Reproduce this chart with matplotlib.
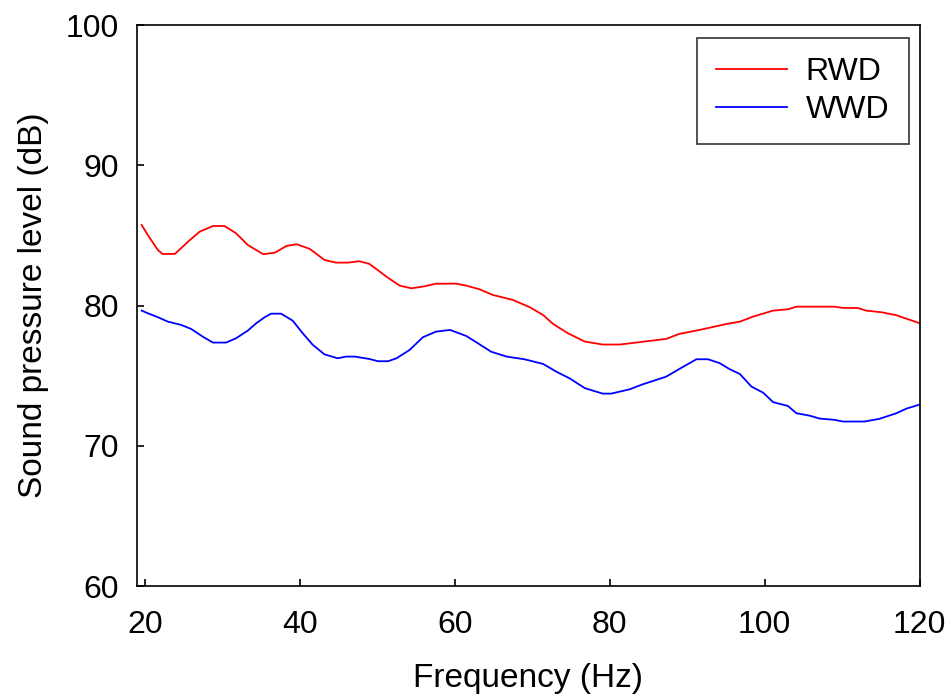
import matplotlib
matplotlib.use("Agg")
import matplotlib.pyplot as plt

plt.rcParams['font.family'] = ['Liberation Sans', 'DejaVu Sans']

# values
rwd_f = [19.6, 20.4, 21.7, 22.3, 23.9, 25.6, 27.1, 28.8, 30.3, 31.8, 33.3, 35.3, 36.8,
         38.3, 39.6, 41.3, 43.2, 44.7, 46.2, 47.7, 49.0, 51.2, 52.9, 54.4, 55.9, 57.6,
         60.2, 61.5, 63.2, 64.9, 67.5, 69.7, 71.4, 72.7, 74.6, 76.8, 79.1, 81.3, 83.4,
         87.3, 89.0, 91.6, 95.1, 96.8, 98.5, 101.1, 103.0, 104.1, 109.0, 110.1, 112.0,
         113.1, 115.1, 117.0, 120.0]
rwd_db = [85.75, 85.03, 83.96, 83.68, 83.68, 84.56, 85.27, 85.67, 85.67, 85.15, 84.32,
          83.66, 83.77, 84.25, 84.37, 84.04, 83.25, 83.06, 83.06, 83.16, 82.97, 82.06,
          81.42, 81.23, 81.35, 81.56, 81.56, 81.42, 81.16, 80.76, 80.40, 79.88, 79.33,
          78.69, 78.03, 77.43, 77.22, 77.22, 77.36, 77.62, 77.98, 78.26, 78.69, 78.85,
          79.21, 79.64, 79.73, 79.92, 79.92, 79.83, 79.83, 79.64, 79.52, 79.31, 78.74]

wwd_f = [19.6, 20.4, 21.7, 23.0, 24.7, 26.0, 27.5, 28.8, 30.5, 31.8, 33.3, 34.4, 35.5,
         36.3, 37.6, 39.1, 40.4, 41.7, 43.2, 44.9, 46.0, 47.1, 49.0, 50.1, 51.4, 52.5,
         54.2, 55.9, 57.6, 59.4, 61.5, 63.0, 64.7, 66.7, 69.0, 71.4, 73.1, 74.8, 76.8,
         79.1, 80.2, 82.6, 84.3, 87.3, 89.0, 91.2, 92.7, 94.2, 95.5, 96.8, 98.3, 99.8,
         101.1, 103.0, 104.1, 105.8, 107.1, 109.0, 110.1, 112.9, 114.8, 117.0, 118.3, 120.0]
wwd_db = [79.64, 79.45, 79.17, 78.85, 78.62, 78.33, 77.78, 77.36, 77.36, 77.67, 78.21,
          78.74, 79.17, 79.42, 79.42, 78.92, 78.02, 77.19, 76.52, 76.24, 76.36, 76.36,
          76.19, 76.03, 76.03, 76.24, 76.84, 77.74, 78.14, 78.26, 77.83, 77.31, 76.71,
          76.36, 76.17, 75.84, 75.29, 74.82, 74.11, 73.72, 73.72, 74.03, 74.39, 74.93,
          75.48, 76.17, 76.17, 75.89, 75.46, 75.12, 74.22, 73.79, 73.11, 72.84, 72.32,
          72.15, 71.94, 71.85, 71.73, 71.73, 71.92, 72.32, 72.65, 72.94]

fig = plt.figure(figsize=(9.51, 6.96), dpi=100)
ax = fig.add_axes([0.144, 0.158, 0.823, 0.806])

ax.plot(rwd_f, rwd_db, color='#ff0000', lw=1.3, label='RWD')
ax.plot(wwd_f, wwd_db, color='#0000ff', lw=1.3, label='WWD')

ax.set_xlim(19, 120)
ax.set_ylim(60, 100)
ax.set_xticks([20, 40, 60, 80, 100, 120])
ax.set_yticks([60, 70, 80, 90, 100])
ax.tick_params(direction='in', length=5, width=1.2, labelsize=23,
               top=False, right=False)
ax.tick_params(axis='x', pad=17)
ax.tick_params(axis='y', pad=13)
for s in ax.spines.values():
    s.set_linewidth(1.2)

ax.set_xlabel('Frequency (Hz)', fontsize=24, labelpad=17)
ax.set_ylabel('Sound pressure level (dB)', fontsize=24, labelpad=12)

leg = ax.legend(loc='upper right', fontsize=23, frameon=True, fancybox=False,
                edgecolor='black', handlelength=2.2, handletextpad=0.6,
                borderpad=0.6, borderaxespad=0, labelspacing=0.25,
                bbox_to_anchor=(0.986, 0.977))
leg.get_frame().set_linewidth(1.2)

fig.savefig('out.png', dpi=100)
